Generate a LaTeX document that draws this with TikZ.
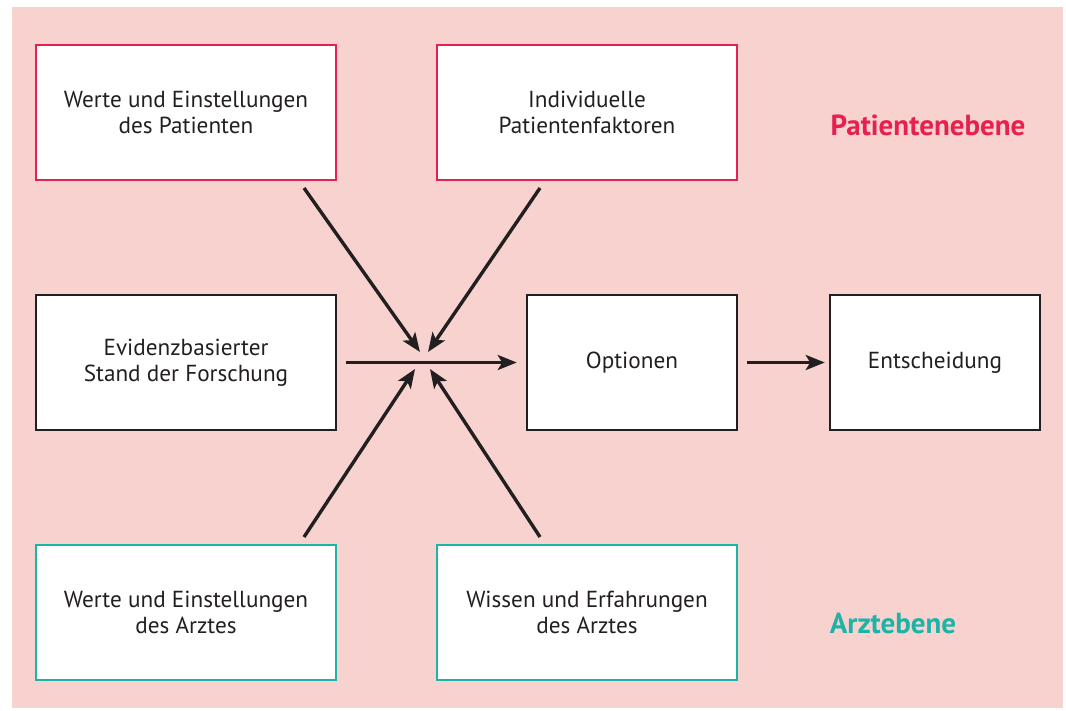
\documentclass[tikz,border=0pt]{standalone}
\usepackage{fontspec}
\setmainfont{PT Sans}
\usetikzlibrary{arrows.meta}
\definecolor{bgpink}{HTML}{F8D2CE}
\definecolor{patred}{HTML}{E8204F}
\definecolor{arzteal}{HTML}{1BB5A8}
\definecolor{ink}{HTML}{231F20}
\tikzset{
  box/.style={draw=#1, line width=2.5pt, fill=white, minimum width=300pt, minimum height=135pt,
    align=center, inner sep=0pt, font=\fontsize{23.2}{26}\selectfont, text=ink},
  sbox/.style={box=#1, minimum width=210pt},
  arr/.style={draw=ink, line width=3.4pt, -{Stealth[length=19pt,width=15pt,inset=4.5pt]}},
  level/.style={font=\fontsize{29}{32}\selectfont\bfseries}
}
\begin{document}
\begin{tikzpicture}[x=1pt,y=-1pt]
\useasboundingbox (0,0) rectangle (1066,711);
\fill[bgpink] (12,7) rectangle (1063,708);
\node[box=patred] (wp) at (186,112.5) {Werte und Einstellungen\\des Patienten};
\node[box=patred] (ip) at (587,112.5) {Individuelle\\Patientenfaktoren};
\node[box=ink] (ev) at (186,362.5) {Evidenzbasierter\\Stand der Forschung};
\node[sbox=ink] (op) at (632,362.5) {Optionen};
\node[sbox=ink] (en) at (935,362.5) {Entscheidung};
\node[box=arzteal] (wa) at (186,612.5) {Werte und Einstellungen\\des Arztes};
\node[box=arzteal] (wi) at (587,612.5) {Wissen und Erfahrungen\\des Arztes};
\node[level, text=patred] (pl) at (928,125) {Patientenebene};
\node[level, text=arzteal] (al) at (893,623) {Arztebene};
\coordinate (c1) at (420,352);
\coordinate (c2) at (428,352);
\coordinate (c3) at (415,369);
\coordinate (c4) at (430,369);
\coordinate (s1) at (304,188);
\coordinate (s2) at (540,188);
\coordinate (s3) at (304,537);
\coordinate (s4) at (540,537);
\draw[arr] (s1) -- (c1);
\draw[arr] (s2) -- (c2);
\draw[arr] (s3) -- (c3);
\draw[arr] (s4) -- (c4);
\draw[arr] ([xshift=9pt]ev.east) -- ([xshift=-9pt]op.west);
\draw[arr] ([xshift=9pt]op.east) -- ([xshift=-4pt]en.west);
\end{tikzpicture}
\end{document}
